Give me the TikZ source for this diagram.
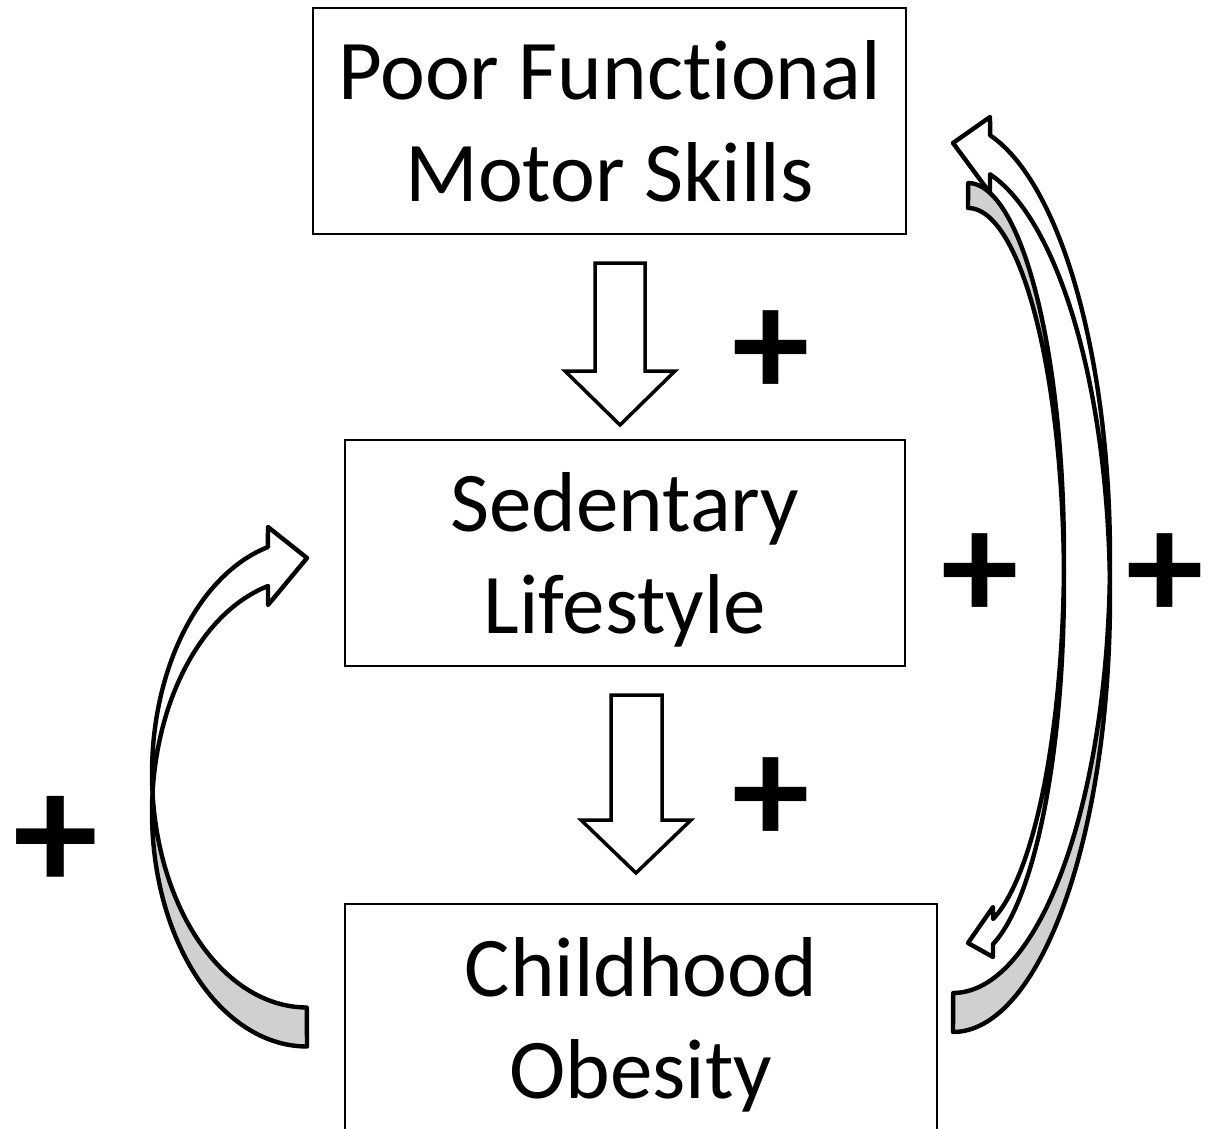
\documentclass[tikz,border=0pt]{standalone}
\usepackage{fontspec}
\setmainfont[Ligatures={NoCommon,NoDiscretionary,NoRare}]{Carlito}
\definecolor{arrgray}{RGB}{208,208,208}
\begin{document}
\begin{tikzpicture}[x=1pt,y=-1pt]
\tikzset{
  boxnode/.style={draw=black, line width=2pt, align=center, font=\fontsize{85}{102}\selectfont, text depth=0pt, inner sep=0pt, minimum height=226pt},
  blockarrow/.style={draw=black, line width=3.5pt, fill=white, line join=miter},
  curvwhite/.style={draw=black, line width=4.4pt, fill=white, line join=round},
  curvgray/.style={draw=black, line width=4.4pt, fill=arrgray, line join=round},
  plussign/.style={font=\fontsize{155}{155}\selectfont\bfseries, inner sep=0pt, anchor=base},
  pl/.style={domain=0:1, samples=70, variable=\t}
}
\useasboundingbox (0,0) rectangle (1216,1129);
\fill[white] (0,0) rectangle (1216,1129);

% boxes
\node[boxnode, minimum width=593pt] (pfms) at (609.5,121) {Poor Functional\\Motor Skills};
\node[boxnode, minimum width=560pt] (sed) at (625,553) {Sedentary\\Lifestyle};
\node[boxnode, minimum width=592pt, minimum height=228pt] (obe) at (641,1018) {Childhood\\Obesity};

% straight block arrows
\draw[blockarrow] (595,263) -- (645,263) -- (645,371) -- (675,371) -- (620,425) -- (565,371) -- (595,371) -- cycle;
\draw[blockarrow] (611,695) -- (662,695) -- (662,820) -- (691,820) -- (636,873) -- (581,820) -- (611,820) -- cycle;

% left curved arrow (Obesity -> Sedentary)
\draw[curvgray] plot[pl] ({307+155*cos(175.22-85.22*\t)},{773.5+234*sin(175.22-85.22*\t)})
  -- plot[pl] ({307+155*cos(90+94.78*\t)},{812.5+234*sin(90+94.78*\t)}) -- cycle;
\draw[curvwhite] plot[pl] ({307+155*cos(175.22+80.21*\t)},{773.5+234*sin(175.22+80.21*\t)})
  -- (268,527) -- (307,558) -- (268,605)
  -- plot[pl] ({307+155*cos(255.43-70.65*\t)},{812.5+234*sin(255.43-70.65*\t)}) -- cycle;

% right curved arrow U (Obesity -> Poor Functional)
\draw[curvwhite] plot[pl] ({953+157*cos(2.569-78.939*\t)},{558+435*sin(2.569-78.939*\t)})
  -- (990,117) -- (953,143) -- (990,193)
  -- plot[pl] ({953+157*cos(-76.37+73.801*\t)},{597+435*sin(-76.37+73.801*\t)}) -- cycle;
\draw[curvgray] plot[pl] ({953+157*cos(2.569+87.431*\t)},{558+435*sin(2.569+87.431*\t)})
  -- plot[pl] ({953+157*cos(90-92.569*\t)},{597+435*sin(90-92.569*\t)}) -- cycle;

% right curved arrow D (Poor Functional -> Obesity)
\draw[curvgray] plot[pl] ({968+96*cos(1.913-91.913*\t)},{557.5+374.5*sin(1.913-91.913*\t)})
  -- plot[pl] ({968+96*cos(-90+88.087*\t)},{582.5+374.5*sin(-90+88.087*\t)}) -- cycle;
\draw[curvwhite] plot[pl] ({968+96*cos(1.913+72.987*\t)},{557.5+374.5*sin(1.913+72.987*\t)})
  -- (993,907) -- (968,943) -- (993,957)
  -- plot[pl] ({968+96*cos(74.9-76.813*\t)},{582.5+374.5*sin(74.9-76.813*\t)}) -- cycle;

% plus signs
\node[plussign] (p1) at (771,396.6) {+};
\node[plussign] (p2) at (771,843.6) {+};
\node[plussign] (p3) at (980,619.6) {+};
\node[plussign] (p4) at (1165,619.6) {+};
\node[plussign, font=\fontsize{170}{170}\selectfont\bfseries] (p5) at (56,890.4) {+};
\end{tikzpicture}
\end{document}
